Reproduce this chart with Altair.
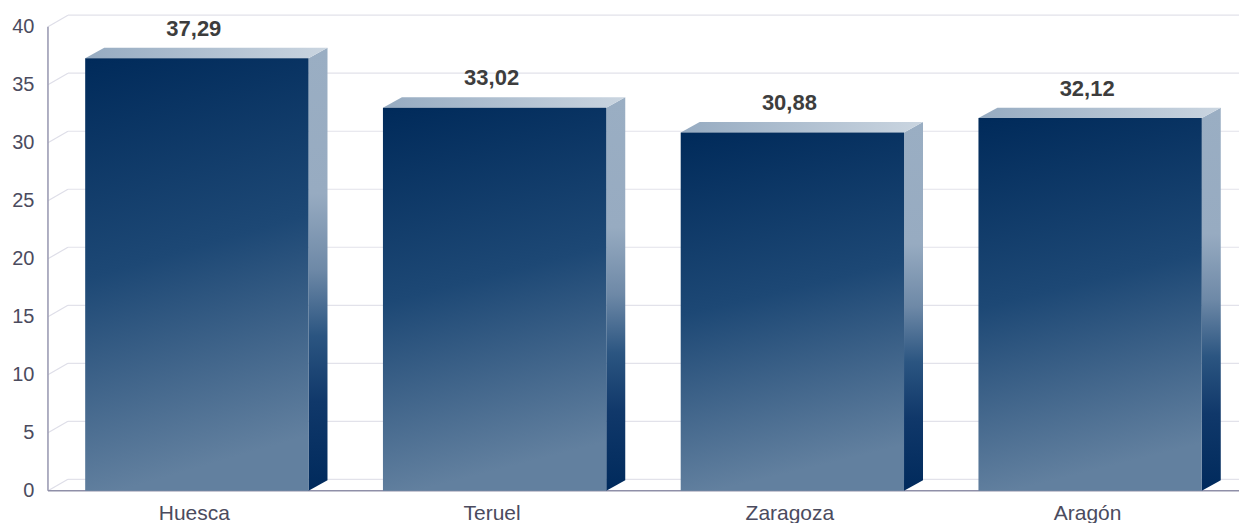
import json
import altair as alt
import pandas as pd

# ---- data ----
categories = ["Huesca", "Teruel", "Zaragoza", "Aragón"]
values = [37.29, 33.02, 30.88, 32.12]
y_ticks = [0, 5, 10, 15, 20, 25, 30, 35, 40]

# ---- style constants (3D depth, in scale units) ----
BAR_HALF = 0.375
BAR_DX = 19 / 298
BAR_DY = 0.9
GRID_DX = 20 / 298
GRID_DY = 0.99
X_MIN, X_MAX = -0.5, len(categories) - 0.5
Y_TOP = max(y_ticks) + GRID_DY

FONT = "Liberation Sans"

xs = alt.Scale(domain=[X_MIN, X_MAX], nice=False, zero=False)
ys = alt.Scale(domain=[0, Y_TOP], nice=False, zero=False)

idx = list(range(len(categories)))
label_expr = "%s[datum.value]" % json.dumps(categories)

X_AXIS = alt.Axis(
    values=idx, labelExpr=label_expr, domain=False, ticks=False, grid=False,
    title=None, labelFont=FONT, labelFontSize=21, labelColor="#4b4b5e",
    labelPadding=29, labelBaseline="alphabetic", labelOffset=-3,
    labelFlush=False, labelOverlap=False,
)
Y_AXIS = alt.Axis(
    values=y_ticks, domain=False, ticks=False, grid=False, title=None,
    labelFont=FONT, labelFontSize=20, labelColor="#4b4b5e", labelPadding=14,
)


def X(field):
    return alt.X(field, scale=xs, axis=X_AXIS)


def Y(field):
    return alt.Y(field, scale=ys, axis=Y_AXIS)


front = pd.DataFrame({"cat": categories, "i": idx, "v": values})
front["x0"] = front["i"] - BAR_HALF
front["x1"] = front["i"] + BAR_HALF
front["vt"] = front["v"] + BAR_DY

side_rows, top_rows = [], []
for i, v in zip(idx, values):
    x1 = i + BAR_HALF
    x0 = i - BAR_HALF
    side_rows += [
        {"id": i, "x": x1, "y": v, "y2": 0},
        {"id": i, "x": x1 + BAR_DX, "y": v + BAR_DY, "y2": BAR_DY},
    ]
    top_rows += [
        {"id": i, "x": x0, "y": v, "y2": v},
        {"id": i, "x": x0 + BAR_DX, "y": v + BAR_DY, "y2": v},
        {"id": i, "x": x1, "y": v + BAR_DY, "y2": v},
        {"id": i, "x": x1 + BAR_DX, "y": v + BAR_DY, "y2": v + BAR_DY},
    ]
side = pd.DataFrame(side_rows)
top = pd.DataFrame(top_rows)

grid = pd.DataFrame({"t": y_ticks})
grid["gx"] = X_MIN + GRID_DX
grid["gx2"] = X_MAX
grid["gy"] = grid["t"] + GRID_DY
grid["dx0"] = X_MIN

axis_df = pd.DataFrame({"x": [X_MIN], "y": [0], "y2": [max(y_ticks)], "x2": [X_MAX]})

back_grid = alt.Chart(grid).mark_rule(color="#e2e2ea", strokeWidth=1.2).encode(
    x=X("gx:Q"), x2="gx2:Q", y=Y("gy:Q"),
)
diag = alt.Chart(grid).mark_rule(color="#dedee8", strokeWidth=1.2).encode(
    x=X("dx0:Q"), x2="gx:Q", y=Y("t:Q"), y2="gy:Q",
)
y_line = alt.Chart(axis_df).mark_rule(color="#9c9cb4", strokeWidth=1.6).encode(
    x=X("x:Q"), y=Y("y:Q"), y2="y2:Q",
)
base_line = alt.Chart(axis_df).mark_rule(color="#8f8fa8", strokeWidth=1.6).encode(
    x=X("x:Q"), x2="x2:Q", y=Y("y:Q"),
)

side_grad = alt.Gradient(
    gradient="linear", x1=0, y1=0, x2=0, y2=1,
    stops=[
        alt.GradientStop(offset=0, color="#9aaec3"),
        alt.GradientStop(offset=0.33, color="#97abc1"),
        alt.GradientStop(offset=0.5, color="#6e89a7"),
        alt.GradientStop(offset=0.65, color="#2b5581"),
        alt.GradientStop(offset=0.8, color="#10386a"),
        alt.GradientStop(offset=1, color="#002a5c"),
    ],
)
top_grad = alt.Gradient(
    gradient="linear", x1=0, y1=0, x2=1, y2=0,
    stops=[
        alt.GradientStop(offset=0, color="#96abc1"),
        alt.GradientStop(offset=1, color="#cad5e0"),
    ],
)
front_grad = alt.Gradient(
    gradient="linear", x1=0, y1=0, x2=0.15, y2=1,
    stops=[
        alt.GradientStop(offset=0, color="#002a5a"),
        alt.GradientStop(offset=0.5, color="#1d4875"),
        alt.GradientStop(offset=1, color="#62809f"),
    ],
)

side_faces = alt.Chart(side).mark_area(color=side_grad, interpolate="linear").encode(
    x=X("x:Q"), y=Y("y:Q"), y2="y2:Q", detail="id:N",
)
top_faces = alt.Chart(top).mark_area(color=top_grad, interpolate="linear").encode(
    x=X("x:Q"), y=Y("y:Q"), y2="y2:Q", detail="id:N",
)
front_faces = alt.Chart(front).mark_rect(color=front_grad).encode(
    x=X("x0:Q"), x2="x1:Q", y=Y("v:Q"), y2=alt.datum(0),
)

value_labels = alt.Chart(front).transform_calculate(
    lab="replace(format(datum.v, '.2f'), '.', ',')"
).mark_text(
    font=FONT, fontSize=22, fontWeight="bold", color="#3d3d3d",
    baseline="alphabetic", dy=-12, dx=-3,
).encode(
    x=X("i:Q"), y=Y("vt:Q"), text="lab:N",
)

chart = alt.layer(
    back_grid, diag, y_line, base_line, side_faces, top_faces, front_faces, value_labels
).properties(
    width=1192, height=476,
    autosize=alt.AutoSizeParams(type="none"),
    padding={"left": 40, "top": 7, "right": 0, "bottom": 32},
    background="white",
).configure_view(stroke=None)

chart.save("out.html", embed_options={"renderer": "svg", "actions": False})
